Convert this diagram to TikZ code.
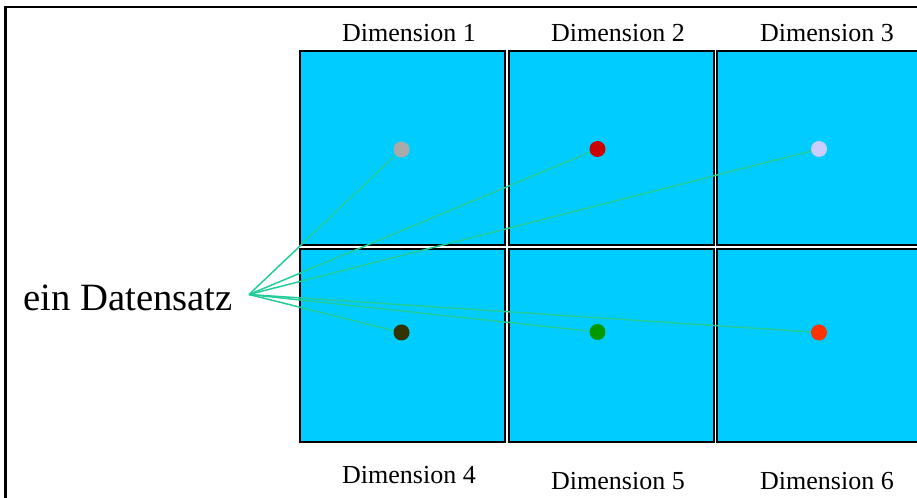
\documentclass[tikz,border=0pt]{standalone}
\usepackage{fontspec}
\setmainfont{Liberation Serif}
\definecolor{panelcyan}{HTML}{00CCFF}
\definecolor{linkgreen}{HTML}{22CC99}
\definecolor{dotgray}{HTML}{AAAAAA}
\definecolor{dotred}{HTML}{CC0000}
\definecolor{dotlav}{HTML}{CCCCFF}
\definecolor{dotdark}{HTML}{333300}
\definecolor{dotgreen}{HTML}{009900}
\definecolor{dotorange}{HTML}{FF3300}
\begin{document}
\begin{tikzpicture}[x=0.75pt,y=-0.75pt,
  panel/.style={draw=black,line width=1.5pt,fill=panelcyan},
  dimlabel/.style={font=\fontsize{19.5pt}{22pt}\selectfont,inner sep=0pt},
  link/.style={draw=linkgreen,line width=1.1pt},
  dot/.style={circle,fill=#1,minimum size=12pt,inner sep=0pt}]
\useasboundingbox (0,0) rectangle (917,498);
\clip (0,0) rectangle (917,498);
\fill[white] (0,0) rectangle (917,498);
\draw[line width=2pt] (5.5,7) rectangle (940,520);
% panels
\draw[panel] (300,51) rectangle (505,245);
\draw[panel] (509,51) rectangle (714,245);
\draw[panel] (717,51) rectangle (935,245);
\draw[panel] (300,249) rectangle (505,442);
\draw[panel] (509,249) rectangle (714,442);
\draw[panel] (717,249) rectangle (935,442);
% labels
\node[dimlabel] (l1) at (409,33) {Dimension 1};
\node[dimlabel] (l2) at (618,33) {Dimension 2};
\node[dimlabel] (l3) at (827,33) {Dimension 3};
\node[dimlabel] (l4) at (409,475) {Dimension 4};
\node[dimlabel] (l5) at (618,481) {Dimension 5};
\node[dimlabel] (l6) at (827,481) {Dimension 6};
\node[font=\fontsize{29pt}{32pt}\selectfont,inner sep=0pt] (txt) at (128,298) {ein Datensatz};
\coordinate (hub) at (249,294.5);
% dots positions
\coordinate (p1) at (401.5,149.5);
\coordinate (p2) at (597.5,149);
\coordinate (p3) at (819,149);
\coordinate (p4) at (401.5,332.5);
\coordinate (p5) at (597.5,332);
\coordinate (p6) at (819,332.5);
\foreach \p in {p1,p2,p3,p4,p5,p6} \draw[link] (hub) -- (\p);
\node[dot=dotgray] (d1) at (p1) {};
\node[dot=dotred] (d2) at (p2) {};
\node[dot=dotlav] (d3) at (p3) {};
\node[dot=dotdark] (d4) at (p4) {};
\node[dot=dotgreen] (d5) at (p5) {};
\node[dot=dotorange] (d6) at (p6) {};
\end{tikzpicture}
\end{document}
